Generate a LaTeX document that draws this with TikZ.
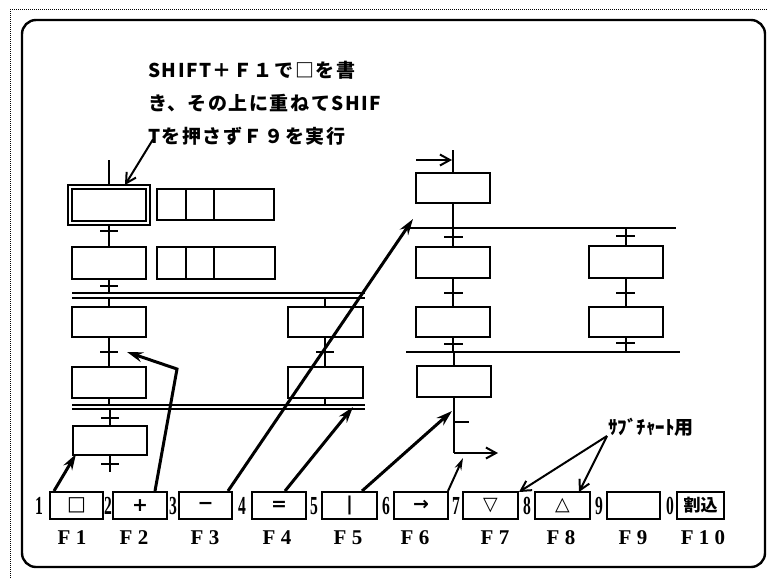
\documentclass[tikz,border=0pt]{standalone}
\usepackage{fontspec}
\usetikzlibrary{arrows.meta}
\setmainfont{Liberation Serif}
\newfontfamily\jp{Noto Sans CJK JP}[LetterSpace=8]
\newfontfamily\jpn{Noto Sans CJK JP}
\newfontfamily\symf{DejaVu Sans}
\newcommand{\kn}[1]{\scalebox{0.6}[1]{#1}}
\begin{document}
\begin{tikzpicture}[x=1pt,y=-1pt,
  ln/.style={line width=2pt},
  sbox/.style={draw,line width=2pt,inner sep=0pt,minimum width=74pt},
  key/.style={draw,line width=2pt,inner sep=0pt,minimum height=27pt,font=\symf\bfseries\fontsize{19}{19}\selectfont},
  knum/.style={inner sep=0pt,font=\bfseries\fontsize{26}{26}\selectfont},
  flab/.style={inner sep=0pt,font=\bfseries\fontsize{21}{21}\selectfont},
  jtext/.style={inner sep=0pt,anchor=west,font=\jp\bfseries\fontsize{19}{19}\selectfont},
  bigarr/.style={line width=3pt,-{Stealth[length=16pt,width=10pt]}},
  thinarr/.style={line width=2pt,-{Straight Barb[length=10pt,width=11pt]}},
  tick/.style={line width=2pt}]
\useasboundingbox (0,0) rectangle (768,579);
% frames
\draw[line width=1pt,densely dotted] (10,9) -- (768,9);
\draw[line width=1pt,densely dotted] (10,9) -- (10,579);
\draw[line width=2.4pt,rounded corners=14pt] (22,20) rectangle (765,567);
% text
\node[jtext] (J1) at (148,70) {SHIFT＋Ｆ１で□を書};
\node[jtext] (J2) at (148,103) {き、その上に重ねてSHIF};
\node[jtext] (J3) at (148,136) {Tを押さずＦ９を実行};
% left column
\node[draw,line width=2pt,inner sep=0pt,minimum width=82pt,minimum height=40pt] (L1o) at (109,205) {};
\node[sbox,minimum height=32pt] (L1) at (109,205) {};
\node[sbox,minimum height=32pt] (L2) at (109,263) {};
\node[sbox,minimum height=30pt] (L3) at (109,322) {};
\node[sbox,minimum height=31pt] (L4) at (109,382.5) {};
\node[sbox,minimum height=29pt] (L5) at (110,440.5) {};
\node[sbox,minimum width=75pt,minimum height=30pt] (B1) at (325,322) {};
\node[sbox,minimum width=75pt,minimum height=31pt] (B2) at (325,382.5) {};
% tables
\node[draw,line width=2pt,inner sep=0pt,minimum width=117pt,minimum height=31pt] (T1) at (215.5,204.5) {};
\node[draw,line width=2pt,inner sep=0pt,minimum width=118pt,minimum height=32pt] (T2) at (216,263) {};
\foreach \t in {T1,T2}{
  \draw[ln] ([xshift=30pt]\t.north west) -- ([xshift=30pt]\t.south west);
  \draw[ln] ([xshift=58pt]\t.north west) -- ([xshift=58pt]\t.south west);
}
% double lines
\coordinate (DA1) at (72,293); \coordinate (DA2) at (365,293);
\coordinate (DB1) at (72,298); \coordinate (DB2) at (365,298);
\coordinate (DC1) at (72,405); \coordinate (DC2) at (365,405);
\coordinate (DD1) at (72,409); \coordinate (DD2) at (365,409);
\draw[line width=1.8pt] (DA1) -- (DA2); \draw[line width=1.8pt] (DB1) -- (DB2);
\draw[line width=1.8pt] (DC1) -- (DC2); \draw[line width=1.8pt] (DD1) -- (DD2);
% left connectors
\coordinate (Ltop) at (109,160);
\draw[ln] (Ltop) -- (L1o.north);
\draw[ln] (L1o.south) -- (L2.north);
\draw[tick] (100,231) -- (118,231);
\draw[ln] (L2.south) -- (109,293);
\draw[tick] (100,286) -- (118,286);
\draw[ln] (109,298) -- (L3.north);
\draw[ln] (L3.south) -- (L4.north);
\draw[tick] (100,352) -- (118,352);
\draw[ln] (L4.south) -- (109,405);
\draw[ln] (110,409) -- (L5.north);
\draw[tick] (101,418) -- (119,418);
\coordinate (Lend) at (110,472);
\draw[ln] (L5.south) -- (Lend);
\draw[tick] (101,464) -- (119,464);
\draw[ln] (325,298) -- (B1.north);
\draw[ln] (B1.south) -- (B2.north);
\draw[tick] (316,352) -- (334,352);
\draw[ln] (B2.south) -- (325,405);
% right column
\node[sbox,minimum height=30pt] (R1) at (453,188) {};
\node[sbox,minimum height=31pt] (R2) at (453,262.5) {};
\node[sbox,minimum height=30pt] (R3) at (453,322) {};
\node[sbox,minimum height=31pt] (R4) at (454,381.5) {};
\node[sbox,minimum height=32pt] (R2b) at (626,262) {};
\node[sbox,minimum height=30pt] (R3b) at (626,322) {};
\coordinate (Rtop) at (453,150);
\coordinate (Rin) at (416,160);
\draw[ln] (Rtop) -- (R1.north);
\draw[thinarr] (Rin) -- (452,160);
\coordinate (H1a) at (405,228); \coordinate (H1b) at (676,228);
\coordinate (H2a) at (406,352); \coordinate (H2b) at (680,352);
\draw[ln] (H1a) -- (H1b);
\draw[ln] (H2a) -- (H2b);
\draw[ln] (R1.south) -- (453,228);
\draw[ln] (453,228) -- (R2.north);
\draw[tick] (444,237) -- (463,237);
\draw[ln] (R2.south) -- (R3.north);
\draw[tick] (444,293) -- (463,293);
\draw[ln] (R3.south) -- (453,352);
\draw[tick] (444,344) -- (463,344);
\draw[ln] (454,352) -- (R4.north);
\coordinate (Rcorner) at (454,453);
\coordinate (Rout) at (498,453);
\draw[ln] (R4.south) -- (Rcorner);
\draw[thinarr] (Rcorner) -- (Rout);
\draw[tick] (454,422) -- (469,422);
\draw[ln] (626,228) -- (R2b.north);
\draw[tick] (616,236) -- (635,236);
\draw[ln] (R2b.south) -- (R3b.north);
\draw[tick] (616,293) -- (635,293);
\draw[ln] (R3b.south) -- (626,352);
\draw[tick] (616,343) -- (635,343);
% function keys
\node[key,minimum width=53pt,font=\symf\fontsize{20}{20}\selectfont] (K1) at (76.5,505.5) {□};
\node[key,minimum width=54pt] (K2) at (140,505.5) {+};
\node[key,minimum width=53pt] (K3) at (205.5,505.5) {−};
\node[key,minimum width=54pt] (K4) at (279,505.5) {=};
\node[key,minimum width=55pt] (K5) at (349.5,505.5) {|};
\node[key,minimum width=54pt] (K6) at (421,505.5) {→};
\node[key,minimum width=55pt,font=\symf\fontsize{19}{19}\selectfont] (K7) at (490.5,505.5) {▽};
\node[key,minimum width=55pt,font=\symf\fontsize{19}{19}\selectfont] (K8) at (562.5,505.5) {△};
\node[key,minimum width=53pt] (K9) at (633.5,505.5) {};
\node[key,minimum width=47pt,font=\jpn\bfseries\fontsize{17}{17}\selectfont] (K10) at (700.5,505.5) {割込};
\node[knum] (N1) at (39,506) {\kn{1}};
\node[knum] (N2) at (108,506) {\kn{2}};
\node[knum] (N3) at (173,506) {\kn{3}};
\node[knum] (N4) at (242,506) {\kn{4}};
\node[knum] (N5) at (314,506) {\kn{5}};
\node[knum] (N6) at (386,506) {\kn{6}};
\node[knum] (N7) at (456,506) {\kn{7}};
\node[knum] (N8) at (527,506) {\kn{8}};
\node[knum] (N9) at (599,506) {\kn{9}};
\node[knum] (N0) at (670,506) {\kn{0}};
\node[flab] (F1) at (72,538) {F 1};
\node[flab] (F2) at (134,538) {F 2};
\node[flab] (F3) at (205,538) {F 3};
\node[flab] (F4) at (277,538) {F 4};
\node[flab] (F5) at (348,538) {F 5};
\node[flab] (F6) at (415,538) {F 6};
\node[flab] (F7) at (495,538) {F 7};
\node[flab] (F8) at (561,538) {F 8};
\node[flab] (F9) at (633,538) {F 9};
\node[flab] (F10) at (703,538) {F 1 0};
% sub-chart label
\node[inner sep=0pt,font=\jpn\bfseries\fontsize{19}{19}\selectfont] (S) at (651,427) {ｻﾌﾞﾁｬｰﾄ用};
% arrows
\draw[thinarr] ([xshift=5pt,yshift=6pt]J3.south west) -- ([xshift=16pt,yshift=-1pt]L1o.north);
\draw[bigarr] ([xshift=5pt]K1.north west) -- ([xshift=4pt,yshift=2pt]L5.south west);
\coordinate (F2bend) at (177,369);
\draw[bigarr] ([xshift=15pt]K2.north) -- (F2bend) -- (127,352);
\draw[bigarr] ([xshift=22.5pt]K3.north) -- ([xshift=8pt,yshift=9pt]H1a);
\draw[bigarr] ([xshift=6pt]K4.north) -- ([xshift=-12pt,yshift=2pt]DD2);
\draw[bigarr] ([xshift=12.5pt]K5.north) -- (452,411);
\draw[line width=2pt,-{Stealth[length=12pt,width=7pt]}] ([xshift=-1pt]K6.north east) -- (463,458);
\coordinate (Sarr) at (607,436);
\draw[thinarr] (Sarr) -- ([yshift=-1pt]K7.north east);
\draw[thinarr] (Sarr) -- ([xshift=-12pt,yshift=-1pt]K8.north east);
\end{tikzpicture}
\end{document}
